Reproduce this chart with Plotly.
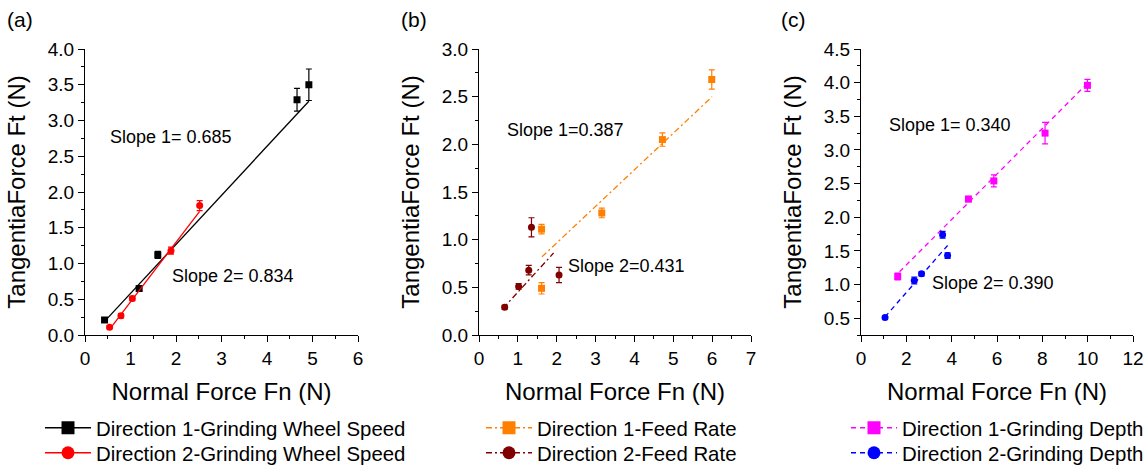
import plotly.graph_objects as go

FONT = "Arial, 'Liberation Sans', sans-serif"

# ---------------- data ----------------
# Panel (a) grinding wheel speed
a1_x = [0.43, 1.19, 1.60, 4.66, 4.92]
a1_y = [0.21, 0.65, 1.12, 3.29, 3.50]
a1_e = [0.03, 0.03, 0.05, 0.16, 0.22]
a2_x = [0.54, 0.79, 1.04, 1.89, 2.52]
a2_y = [0.11, 0.27, 0.51, 1.18, 1.81]
a2_e = [0.02, 0.03, 0.03, 0.05, 0.07]
a1_fit_x = [0.43, 4.92]
a1_fit_y = [0.19, 3.27]
a2_fit_x = [0.54, 2.52]
a2_fit_y = [0.08, 1.73]

# Panel (b) feed rate
b1_x = [1.61, 1.61, 3.16, 4.72, 5.99]
b1_y = [0.49, 1.11, 1.28, 2.05, 2.68]
b1_e = [0.06, 0.05, 0.05, 0.07, 0.10]
b2_x = [0.66, 1.02, 1.28, 1.35, 2.06]
b2_y = [0.29, 0.51, 0.68, 1.13, 0.63]
b2_e = [0.02, 0.03, 0.05, 0.10, 0.08]
b1_fit_x = [1.62, 6.0]
b1_fit_y = [0.82, 2.50]
b2_fit_x = [0.62, 1.92]
b2_fit_y = [0.28, 0.86]

# Panel (c) grinding depth
c1_x = [1.62, 4.74, 5.86, 8.12, 9.99]
c1_y = [1.12, 2.27, 2.54, 3.25, 3.96]
c1_e = [0.05, 0.04, 0.09, 0.16, 0.09]
c2_x = [1.06, 2.35, 2.67, 3.60, 3.82]
c2_y = [0.51, 1.06, 1.16, 1.74, 1.43]
c2_e = [0.02, 0.05, 0.03, 0.05, 0.04]
c1_fit_x = [1.70, 9.99]
c1_fit_y = [1.19, 3.99]
c2_fit_x = [1.06, 3.82]
c2_fit_y = [0.52, 1.58]

slope_texts = ["Slope 1= 0.685", "Slope 2= 0.834",
               "Slope 1=0.387", "Slope 2=0.431",
               "Slope 1= 0.340", "Slope 2= 0.390"]
legend_names = ["Direction 1-Grinding Wheel Speed", "Direction 2-Grinding Wheel Speed",
                "Direction 1-Feed Rate", "Direction 2-Feed Rate",
                "Direction 1-Grinding Depth", "Direction 2-Grinding Depth"]
panel_labels = ["(a)", "(b)", "(c)"]

# ---------------- styling ----------------
C_BLACK = "#000000"
C_RED = "#FF0000"
C_ORANGE = "#FF8000"
C_DRED = "#800000"
C_MAG = "#FF00FF"
C_BLUE = "#0000FF"

fig = go.Figure()

def add_series(x, y, e, fx, fy, color, symbol, dash, xa, ya):
    fig.add_trace(go.Scatter(
        x=fx, y=fy, mode="lines", line=dict(color=color, width=1.3, dash=dash),
        showlegend=False, xaxis=xa, yaxis=ya, hoverinfo="skip"))
    fig.add_trace(go.Scatter(
        x=x, y=y, mode="markers",
        marker=dict(color=color, symbol=symbol, size=7),
        error_y=dict(type="data", array=e, visible=True, color=color, thickness=1.2, width=3),
        showlegend=False, xaxis=xa, yaxis=ya))

def add_legend(name, color, symbol, dash, leg):
    fig.add_trace(go.Scatter(
        x=[None], y=[None], mode="lines+markers", name=name,
        line=dict(color=color, width=1.3, dash=dash),
        marker=dict(color=color, symbol=symbol, size=13),
        legend=leg, xaxis="x", yaxis="y"))

DD = "6px,3px,2px,3px"
DS = "5px,4px"

add_series(a1_x, a1_y, a1_e, a1_fit_x, a1_fit_y, C_BLACK, "square", "solid", "x", "y")
add_series(a2_x, a2_y, a2_e, a2_fit_x, a2_fit_y, C_RED, "circle", "solid", "x", "y")
add_series(b1_x, b1_y, b1_e, b1_fit_x, b1_fit_y, C_ORANGE, "square", DD, "x2", "y2")
add_series(b2_x, b2_y, b2_e, b2_fit_x, b2_fit_y, C_DRED, "circle", DD, "x2", "y2")
add_series(c1_x, c1_y, c1_e, c1_fit_x, c1_fit_y, C_MAG, "square", DS, "x3", "y3")
add_series(c2_x, c2_y, c2_e, c2_fit_x, c2_fit_y, C_BLUE, "circle", DS, "x3", "y3")

add_legend(legend_names[0], C_BLACK, "square", "solid", "legend")
add_legend(legend_names[1], C_RED, "circle", "solid", "legend2")
add_legend(legend_names[2], C_ORANGE, "square", DD, "legend3")
add_legend(legend_names[3], C_DRED, "circle", DD, "legend4")
add_legend(legend_names[4], C_MAG, "square", DS, "legend5")
add_legend(legend_names[5], C_BLUE, "circle", DS, "legend6")

W, H = 1148, 465
def px(v):
    return v / W
def py(v):
    return (H - v) / H

ydom = [py(335), py(49)]
axis_common = dict(showline=True, linecolor="black", linewidth=1.3, ticks="outside",
                   ticklen=6, tickwidth=1.3, tickcolor="black", showgrid=False,
                   zeroline=False, mirror=False, automargin=False,
                   tickfont=dict(family=FONT, size=19, color="black"),
                   title_font=dict(family=FONT, size=24, color="black"))

def xaxis(dom, rng, dtick, minor, anchor):
    d = dict(axis_common)
    d.update(domain=dom, range=rng, dtick=dtick, tick0=0, anchor=anchor,
             title=dict(text="Normal Force Fn (N)"),
             minor=dict(dtick=minor, ticks="outside", ticklen=3, tickcolor="black", tickwidth=1.2))
    return d

def yaxis(rng, dtick, minor, anchor, t0=0):
    d = dict(axis_common)
    d.update(domain=ydom, range=rng, dtick=dtick, tick0=t0, anchor=anchor,
             tickformat=".1f",
             title=dict(text="TangentiaForce Ft (N)"),
             minor=dict(dtick=minor, ticks="outside", ticklen=3, tickcolor="black", tickwidth=1.2))
    return d

leg_common = dict(font=dict(family=FONT, size=20.4, color="black"), bgcolor="rgba(0,0,0,0)",
                  borderwidth=0, yanchor="middle", xanchor="left", itemwidth=46,
                  tracegroupgap=0, itemclick=False, itemdoubleclick=False)

ROW1, ROW2 = 428, 453
fig.update_layout(
    width=W, height=H, margin=dict(l=0, r=0, t=0, b=0, autoexpand=False),
    paper_bgcolor="white", plot_bgcolor="white",
    font=dict(family=FONT, color="black"),
    xaxis=xaxis([px(85), px(358)], [0, 6], 1, 0.5, "y"),
    yaxis=yaxis([0, 4], 0.5, 0.25, "x"),
    xaxis2=xaxis([px(479), px(751)], [0, 7], 1, 0.5, "y2"),
    yaxis2=yaxis([0, 3], 0.5, 0.25, "x2"),
    xaxis3=xaxis([px(861), px(1133)], [0, 12], 2, 1, "y3"),
    yaxis3=yaxis([0.25, 4.5], 0.5, 0.25, "x3", t0=0.5),
    legend=dict(leg_common, x=px(40), y=py(ROW1)),
    legend2=dict(leg_common, x=px(40), y=py(ROW2)),
    legend3=dict(leg_common, x=px(481), y=py(ROW1)),
    legend4=dict(leg_common, x=px(481), y=py(ROW2)),
    legend5=dict(leg_common, x=px(846), y=py(ROW1)),
    legend6=dict(leg_common, x=px(846), y=py(ROW2)),
    showlegend=True,
)

# slope annotations
ann_pos = [("x", "y", 0.50, 2.77), ("x", "y", 1.87, 0.83),
           ("x2", "y2", 0.67, 2.15), ("x2", "y2", 2.24, 0.72),
           ("x3", "y3", 1.15, 3.37), ("x3", "y3", 3.05, 1.03)]
for (xa, ya, xv, yv), t in zip(ann_pos, slope_texts):
    fig.add_annotation(x=xv, y=yv, xref=xa, yref=ya, text=t, showarrow=False,
                       xanchor="left", yanchor="middle",
                       font=dict(family=FONT, size=18, color="black"))

for lab, xp in zip(panel_labels, [5, 399, 779]):
    fig.add_annotation(x=px(xp), y=py(20), xref="paper", yref="paper", text=lab,
                       showarrow=False, xanchor="left", yanchor="middle",
                       font=dict(family=FONT, size=21, color="black"))

fig.write_html("out.html", config={"displayModeBar": False},
               post_script="document.body.style.margin='0';document.body.style.overflow='hidden';")
